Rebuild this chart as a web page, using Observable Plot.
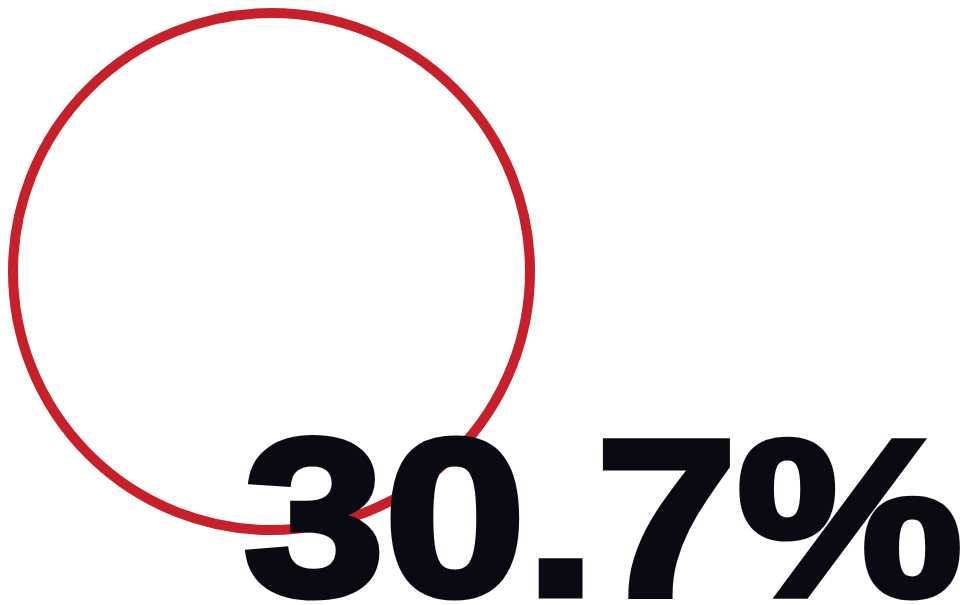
<!DOCTYPE html>
<html>
<head>
<meta charset="utf-8">
<script src="https://cdn.jsdelivr.net/npm/d3@7"></script>
<script src="https://cdn.jsdelivr.net/npm/@observablehq/plot@0.6"></script>
<style>
  html, body { margin: 0; padding: 0; background: #fff; overflow: hidden; }
  #chart svg { display: block; }
</style>
</head>
<body>
<div id="chart"></div>
<script>
// Data
const values = [30.7];
const labels = values.map(v => v.toFixed(1) + "%");

// Layout (pixel positions in the 961x605 frame)
const W = 961, H = 605;
const ring = [{cx: 271, cy: 271}];
const labelAnchor = [{x: 962, y: 594}];
const labelWidth = 719;

const chart = Plot.plot({
  width: W,
  height: H,
  margin: 0,
  x: {domain: [0, W], range: [0, W], axis: null},
  y: {domain: [0, H], range: [0, H], axis: null},
  style: {background: "#ffffff", overflow: "visible"},
  marks: [
    Plot.dot(ring, {x: "cx", y: "cy", r: 258.5, stroke: "#c8202a", strokeWidth: 10, fill: "none"}),
    Plot.text(values.map((v, i) => ({...labelAnchor[0], label: labels[i]})), {
      x: "x", y: "y", text: "label",
      fontSize: 222, fontWeight: 700, fontFamily: "Liberation Sans, Arial, sans-serif",
      textAnchor: "end", lineAnchor: "bottom", fill: "#0a0a12",
      stroke: "#0a0a12", strokeWidth: 7, strokeLinejoin: "miter"
    })
  ]
});
d3.select(chart).selectAll("text")
  .attr("textLength", labelWidth)
  .attr("lengthAdjust", "spacingAndGlyphs");
document.getElementById("chart").appendChild(chart);
</script>
</body>
</html>
